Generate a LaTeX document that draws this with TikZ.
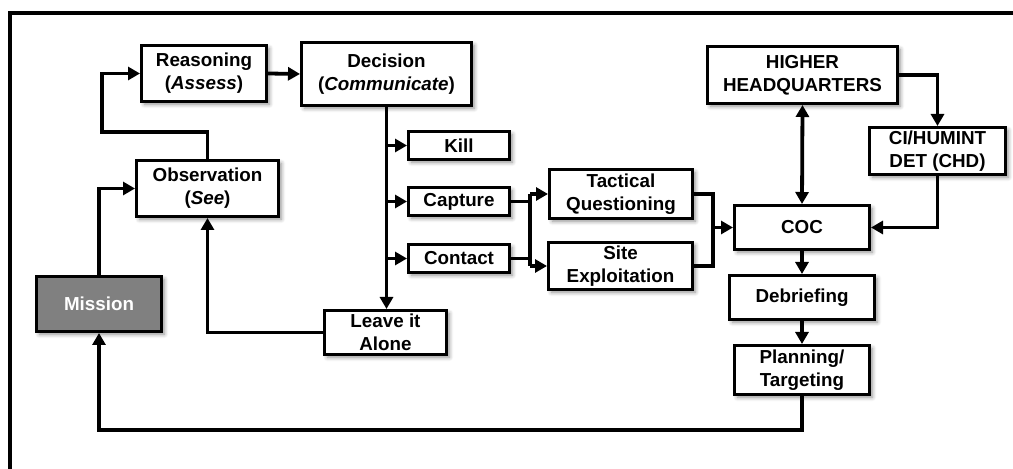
\documentclass[tikz,border=0pt]{standalone}
\usepackage{fontspec}
\setmainfont{Liberation Sans}
\usetikzlibrary{arrows.meta,shadows.blur}
\tikzset{
  box/.style={draw, line width=1.6pt, fill=white, inner sep=0pt, align=center,
    font=\fontsize{9.4}{11.5}\selectfont\bfseries,
    blur shadow={shadow xshift=1.4pt, shadow yshift=-1.4pt, shadow blur steps=6, shadow opacity=45}},
  wh/.style 2 args={minimum width=#1*0.5pt-1.6pt, minimum height=#2*0.5pt-1.6pt},
  link/.style={line width=1.9pt},
  arr/.style={line width=1.9pt, -{Triangle[length=6pt,width=6.5pt]}},
}
\begin{document}
\begin{tikzpicture}[x=0.5pt,y=-0.5pt]
\useasboundingbox (0,0) rectangle (1013,469);
% frame, only top and left edges show
\draw[line width=1.8pt] (8,13) -- (1013,13);
\draw[line width=1.8pt] (10,12) -- (10,469);

% left loop
\node[box, wh={128}{58}, fill=black!50, text=white] (mission) at (99,304) {Mission};
\node[box, wh={145}{59}] (obs) at (207.5,188.5) {Observation\\(\textit{See})};
\node[box, wh={128}{59}] (reason) at (204,73.5) {Reasoning\\(\textit{Assess})};
\node[box, wh={173}{66}] (decide) at (386.5,74) {Decision\\(\textit{Communicate})};

% outcomes
\node[box, wh={104}{31}] (kill) at (459,145.5) {Kill};
\node[box, wh={104}{31}] (capture) at (459,201.5) {Capture};
\node[box, wh={104}{31}] (contact) at (459,258.5) {Contact};
\node[box, wh={125}{47}] (leave) at (385.5,332.5) {Leave it\\Alone};
\node[box, wh={146}{52}] (tq) at (621,194) {Tactical\\Questioning};
\node[box, wh={147}{50}] (site) at (620.5,266) {Site\\Exploitation};

% right column
\node[box, wh={193}{60}] (hhq) at (802.5,75) {HIGHER\\HEADQUARTERS};
\node[box, wh={139}{50}] (chd) at (937.5,151) {CI/HUMINT\\DET (CHD)};
\node[box, wh={138}{47}] (coc) at (802,227.5) {COC};
\node[box, wh={148}{47}] (debrief) at (802,297.5) {Debriefing};
\node[box, wh={138}{52}] (plan) at (802,370) {Planning/\\Targeting};

\coordinate (split) at (530,230);
\coordinate (join) at (713,227.5);

% connectors
\draw[arr] (mission.north) |- (obs.west);
\draw[arr] (obs.north) |- (102,132) |- (reason.west);
\draw[arr] (reason.east) -- (decide.west);
\draw[arr] (decide.south) -- (decide.south |- leave.north);
\foreach \n in {kill,capture,contact}
  \draw[arr] (decide.south |- \n.west) -- (\n.west);
\draw[arr] (leave.west) -| (obs.south);

\draw[link] (capture.east) -- (capture.east -| split);
\draw[link] (contact.east) -- (contact.east -| split);
\draw[link] (split |- tq.west) -- (split |- site.west);
\draw[arr] (split |- tq.west) -- (tq.west);
\draw[arr] (split |- site.west) -- (site.west);

\draw[link] (tq.east) -| (join);
\draw[link] (site.east) -| (join);
\draw[arr] (join) -- (coc.west);

\draw[arr, {Triangle[length=6pt,width=6.5pt]}-{Triangle[length=6pt,width=6.5pt]}] (hhq.south) -- (coc.north);
\draw[arr] (hhq.east) -| (chd.north);
\draw[arr] (chd.south) |- (coc.east);
\draw[arr] (coc.south) -- (debrief.north);
\draw[arr] (debrief.south) -- (plan.north);
\draw[arr] (plan.south) -- ++(0,34) -| (mission.south);
\end{tikzpicture}
\end{document}
